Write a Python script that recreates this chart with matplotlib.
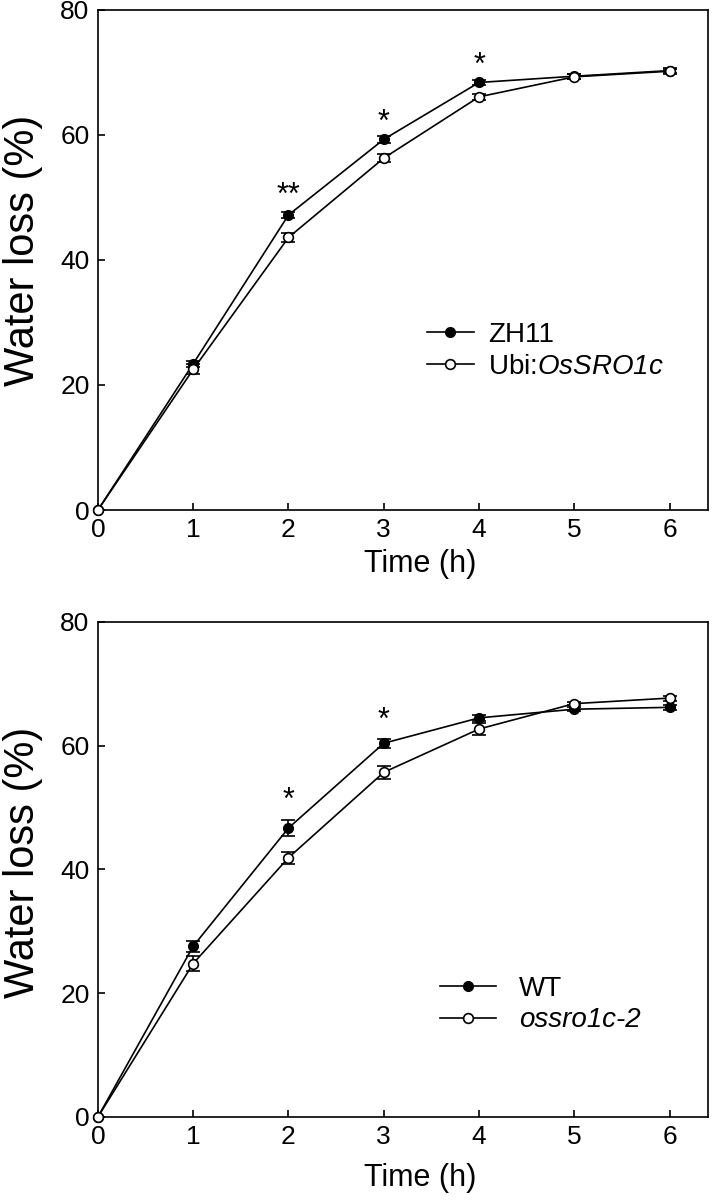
import matplotlib
matplotlib.use("Agg")
import matplotlib.pyplot as plt
from matplotlib.lines import Line2D

plt.rcParams['font.family'] = ['Liberation Sans', 'DejaVu Sans']
plt.rcParams['mathtext.fontset'] = 'custom'
plt.rcParams['mathtext.rm'] = 'Liberation Sans'
plt.rcParams['mathtext.cal'] = 'Liberation Sans:italic'  # italic incl. digits

# time points (h)
hours = [0, 1, 2, 3, 4, 5, 6]

# top panel: overexpression
zh11 = [0, 23.4, 47.2, 59.3, 68.4, 69.4, 70.3]
zh11_err = [0, 0.5, 0.5, 0.6, 0.4, 0.4, 0.4]
ubi = [0, 22.5, 43.6, 56.3, 66.1, 69.3, 70.2]
ubi_err = [0, 0.8, 0.7, 0.6, 0.5, 0.4, 0.4]
top_stars = {2: ('**', 50.2), 3: ('*', 62.0), 4: ('*', 71.0)}

# bottom panel: mutant
wt = [0, 27.6, 46.7, 60.4, 64.5, 65.9, 66.2]
wt_err = [0, 0.9, 1.3, 0.7, 0.45, 0.3, 0.4]
mut = [0, 24.8, 41.9, 55.7, 62.7, 66.8, 67.7]
mut_err = [0, 1.2, 1.0, 1.05, 0.9, 0.3, 0.4]
bottom_stars = {2: ('*', 51.0), 3: ('*', 64.0)}


def draw_panel(ax, y1, e1, y2, e2, labels, stars, leg_anchor, leg_style, xlab_y, ylab_y):
    # error bars first, lines/markers on top
    ax.errorbar(hours, y1, yerr=e1, fmt='none', ecolor='black', elinewidth=1.2,
                capsize=5, capthick=1.2, zorder=2)
    ax.errorbar(hours, y2, yerr=e2, fmt='none', ecolor='black', elinewidth=1.2,
                capsize=5, capthick=1.2, zorder=2)
    ax.plot(hours, y1, '-o', color='black', lw=1.2, ms=7, mfc='black',
            mec='black', zorder=3, clip_on=False)
    ax.plot(hours, y2, '-o', color='black', lw=1.2, ms=7, mfc='white',
            mec='black', mew=1.2, zorder=4, clip_on=False)

    for x, (txt, yv) in stars.items():
        ax.text(x, yv, txt, ha='center', va='center', fontsize=22)

    ax.set_xlim(0, 6.4)
    ax.set_ylim(0, 80)
    ax.set_xticks(hours)
    ax.set_yticks([0, 20, 40, 60, 80])
    ax.tick_params(direction='in', length=5, width=1.2, labelsize=19, pad=6,
                   top=False, right=False)
    for sp in ax.spines.values():
        sp.set_linewidth(1.2)

    ax.set_xlabel('Time (h)', fontsize=22)
    ax.set_ylabel('Water loss (%)', fontsize=30)
    ax.xaxis.set_label_coords(0.528, xlab_y)
    ax.yaxis.set_label_coords(-0.09, ylab_y)

    handles = [
        Line2D([0], [0], color='black', lw=1.2, marker='o', ms=7, mfc='black', mec='black'),
        Line2D([0], [0], color='black', lw=1.2, marker='o', ms=7, mfc='white', mec='black', mew=1.2),
    ]
    hl, tp = leg_style
    leg = ax.legend(handles, labels, loc='center left', bbox_to_anchor=leg_anchor,
                    frameon=False, fontsize=20, handlelength=hl, handletextpad=tp,
                    labelspacing=0.2, borderpad=0, borderaxespad=0)
    return leg


fig = plt.figure(figsize=(7.2, 12), dpi=100)
ax1 = fig.add_axes([0.136, 0.575, 0.847, 0.4167])
ax2 = fig.add_axes([0.136, 0.0692, 0.847, 0.4125])

draw_panel(ax1, zh11, zh11_err, ubi, ubi_err,
           ['ZH11', 'Ubi:$\\mathcal{OsSRO1c}$'], top_stars,
           (0.539, 0.318), (1.7, 0.5), -0.078, 0.52)
leg2 = draw_panel(ax2, wt, wt_err, mut, mut_err,
                  ['WT', 'ossro1c-2'], bottom_stars,
                  (0.561, 0.227), (2.0, 0.85), -0.093, 0.515)
leg2.get_texts()[1].set_fontstyle('italic')

fig.savefig('out.png', dpi=100, facecolor='white')
